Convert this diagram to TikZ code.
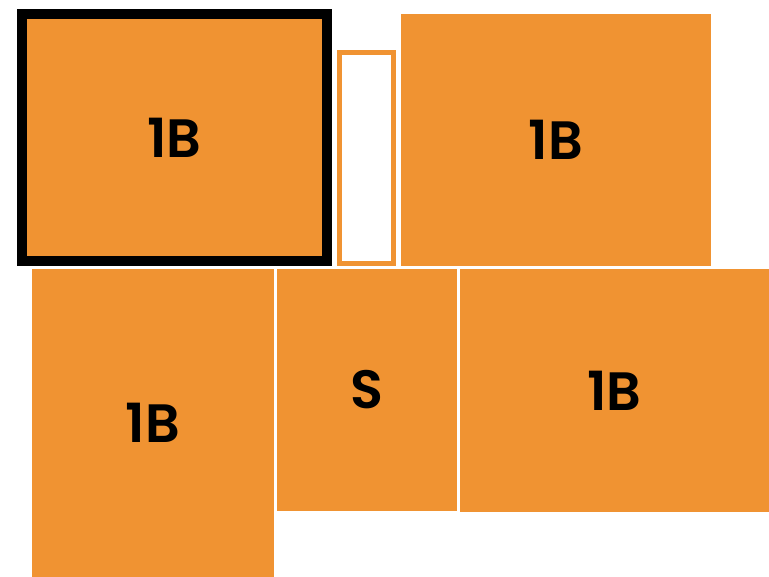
\documentclass[tikz,border=0pt]{standalone}
\usepackage{fontspec}
\setmainfont{Poppins}[BoldFont={Poppins SemiBold}]
\usetikzlibrary{positioning}

\definecolor{plotorange}{RGB}{240,147,50}

\begin{document}
\begin{tikzpicture}[
  x=1pt, y=-1pt,
  font=\bfseries\fontsize{54pt}{60pt}\selectfont,
  plot/.style={
    rectangle,
    fill=plotorange,
    inner sep=0pt,
    outer sep=0pt,
    anchor=north west,
  },
  chosen/.style={plot, draw=black, line width=10pt},
  slot/.style={plot, fill=white, draw=plotorange, line width=5pt},
]
  \useasboundingbox (0,0) rectangle (769,577);

  % --- Top row ---
  \node[chosen, minimum width=305pt, minimum height=247pt] (tl) at (22,14) {1B};
  \node[slot, minimum width=54pt, minimum height=211pt] (gap) at (339.5,52.5) {};
  \node[plot, minimum width=310pt, minimum height=252pt] (tr) at (401,14) {1B};

  % --- Bottom row ---
  \node[plot, minimum width=242pt, minimum height=308pt] (bl) at (32,269) {1B};
  \node[plot, minimum width=180pt, minimum height=242pt, right=3pt of bl.north east, anchor=north west] (sh) {S};
  \node[plot, minimum width=309pt, minimum height=243pt, right=3pt of sh.north east, anchor=north west] (br) {1B};

\end{tikzpicture}
\end{document}
